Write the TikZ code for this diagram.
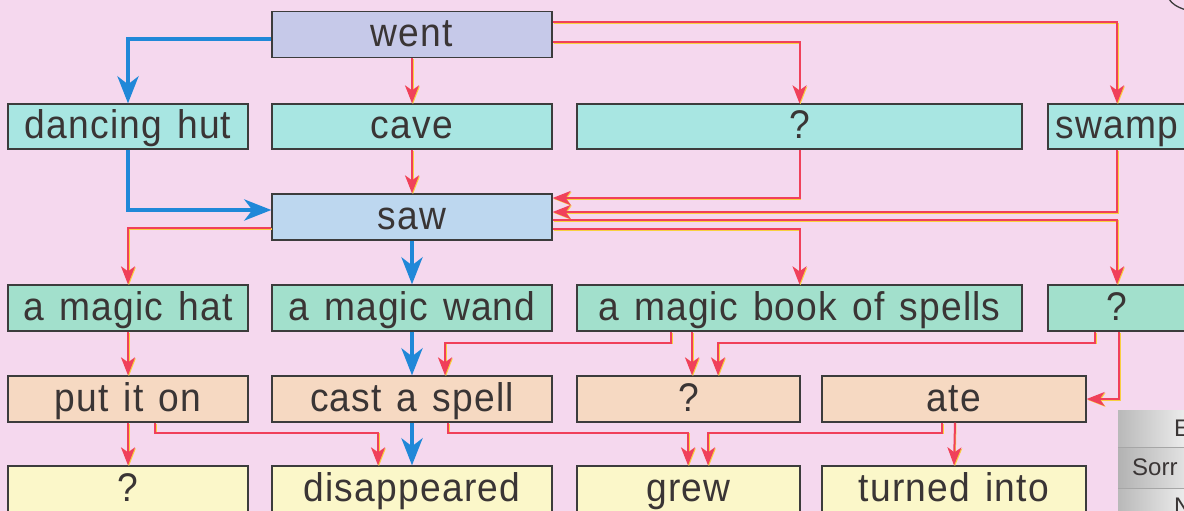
\documentclass[tikz,border=0pt]{standalone}
\usepackage{fontspec}
\setmainfont{Liberation Sans}[LetterSpace=3, FakeStretch=0.93, WordSpace=1.3]
\newfontfamily\smallfont{Liberation Sans}
\usetikzlibrary{arrows.meta,calc}
\definecolor{bgc}{HTML}{F5D8EE}
\definecolor{wentc}{HTML}{C6C9E9}
\definecolor{sawc}{HTML}{BDD7EF}
\definecolor{placec}{HTML}{A8E6E2}
\definecolor{thingc}{HTML}{A2E0CC}
\definecolor{actc}{HTML}{F6D9C2}
\definecolor{endc}{HTML}{FBF7C9}
\definecolor{borderc}{HTML}{3C3C3C}
\definecolor{textc}{HTML}{3A3535}
\definecolor{redc}{HTML}{F0405A}
\definecolor{yelc}{HTML}{F8D040}
\definecolor{bluec}{HTML}{2088D8}
\tikzset{
  box/.style={draw=borderc, line width=1.3pt, minimum height=46pt, inner sep=0pt,
    text=textc, font=\fontsize{40}{46}\selectfont, text height=27pt, text depth=3pt},
  redline/.style={draw=redc, line width=2pt, -{Stealth[length=18pt,width=14pt,inset=5pt]},
    preaction={draw=yelc, line width=1.2pt, transform canvas={shift={(0.9pt,-0.9pt)}}}},
  blueline/.style={draw=bluec, line width=4pt, -{Stealth[length=27pt,width=21pt,inset=8pt]}},
  tabtext/.style={anchor=west, text=textc, font=\smallfont\fontsize{24}{28}\selectfont, inner sep=0pt},
}
\begin{document}
\begin{tikzpicture}[x=1pt,y=-1pt]
\useasboundingbox (0,0) rectangle (1184,511);
\clip (0,0) rectangle (1184,511);
\fill[bgc] (0,0) rectangle (1184,511);
% corner arc
\draw[borderc, line width=1.3pt] (1169,-1) .. controls (1172,4) and (1177,7) .. (1186,10);
% gray table at bottom right
\shade[left color=gray!55, right color=gray!12] (1118,410) rectangle (1190,447);
\shade[left color=gray!60, right color=gray!20] (1118,447) rectangle (1190,488);
\shade[left color=gray!55, right color=gray!12] (1118,488) rectangle (1190,515);
\draw[gray!70, line width=1pt] (1118,447) -- (1190,447) (1118,488) -- (1190,488);
\node[tabtext] (te) at (1174,428) {E};
\node[tabtext] (ts) at (1132,467) {Sorr};
\node[tabtext] (tn) at (1174,506) {N};
% nodes
\node[box, fill=wentc, minimum width=280pt] (went) at (412,34.5) {went};
\node[box, fill=placec, minimum width=240pt, minimum height=45pt] (dhut) at (128,126.5) {dancing hut};
\node[box, fill=placec, minimum width=280pt, minimum height=45pt] (cave) at (412,126.5) {cave};
\node[box, fill=placec, minimum width=445pt, minimum height=45pt] (q2) at (799.5,126.5) {?};
\node[box, fill=placec, minimum width=138pt, minimum height=45pt] (swamp) at (1117,126.5) {swamp};
\node[box, fill=sawc, minimum width=280pt] (saw) at (412,217) {saw};
\node[box, fill=thingc, minimum width=240pt] (hat) at (128,308) {a magic hat};
\node[box, fill=thingc, minimum width=280pt] (wand) at (412,308) {a magic wand};
\node[box, fill=thingc, minimum width=445pt] (book) at (799.5,308) {a magic book of spells};
\node[box, fill=thingc, minimum width=138pt] (q3) at (1117,308) {?};
\node[box, fill=actc, minimum width=240pt] (puton) at (128,399) {put it on};
\node[box, fill=actc, minimum width=280pt] (spell) at (412,399) {cast a spell};
\node[box, fill=actc, minimum width=223pt] (q4) at (688.5,399) {?};
\node[box, fill=actc, minimum width=264pt] (ate) at (954,399) {ate};
\node[box, fill=endc, minimum width=240pt] (q5) at (128,489) {?};
\node[box, fill=endc, minimum width=280pt] (disap) at (412,489) {disappeared};
\node[box, fill=endc, minimum width=223pt] (grew) at (688.5,489) {grew};
\node[box, fill=endc, minimum width=264pt] (turned) at (954,489) {turned into};
% went
\draw[blueline] ([yshift=-5pt]went.west) -| (dhut.north);
\draw[redline] (went.south) -- (cave.north);
\draw[redline] ([yshift=12pt]went.east) -| (swamp.north);
\draw[redline] ([yshift=-8pt]went.east) -| (q2.north);
% into saw
\draw[redline] (cave.south) -- (saw.north);
\draw[blueline] (dhut.south) |- ([yshift=7pt]saw.west);
\draw[redline] (q2.south) |- ([yshift=19pt]saw.east);
\draw[redline] (swamp.south) |- ([yshift=5pt]saw.east);
% out of saw
\draw[redline] ([yshift=-3pt]saw.east) -| (q3.north);
\draw[redline] ([yshift=-12pt]saw.east) -| (book.north);
\draw[redline] ([yshift=-11pt]saw.west) -| (hat.north);
\draw[blueline] (saw.south) -- (wand.north);
% row 3 to row 4
\draw[redline] (hat.south) -- (puton.north);
\draw[blueline] (wand.south) -- (spell.north);
\draw[redline] ([xshift=-128.5pt]book.south) -- ++(0,-11pt) -| ([xshift=33pt]spell.north);
\draw[redline] ([xshift=-107.5pt]book.south) -- ([xshift=3.5pt]q4.north);
\draw[redline] ([xshift=-22pt]q3.south) -- ++(0,-11pt) -| ([xshift=29.5pt]q4.north);
\draw[redline] ([xshift=2pt]q3.south) |- (ate.east);
% row 4 to row 5
\draw[redline] (puton.south) -- (q5.north);
\draw[redline] ([xshift=27pt]puton.south) -- ++(0,-10pt) -| ([xshift=-34pt]disap.north);
\draw[blueline] (spell.south) -- (disap.north);
\draw[redline] ([xshift=36pt]spell.south) -- ++(0,-10pt) -| ([xshift=-0.5pt]grew.north);
\draw[redline] ([xshift=-12pt]ate.south) -- ++(0,-10pt) -| ([xshift=19.5pt]grew.north);
\draw[redline] ([xshift=1pt]ate.south) -- (turned.north);
\end{tikzpicture}
\end{document}
